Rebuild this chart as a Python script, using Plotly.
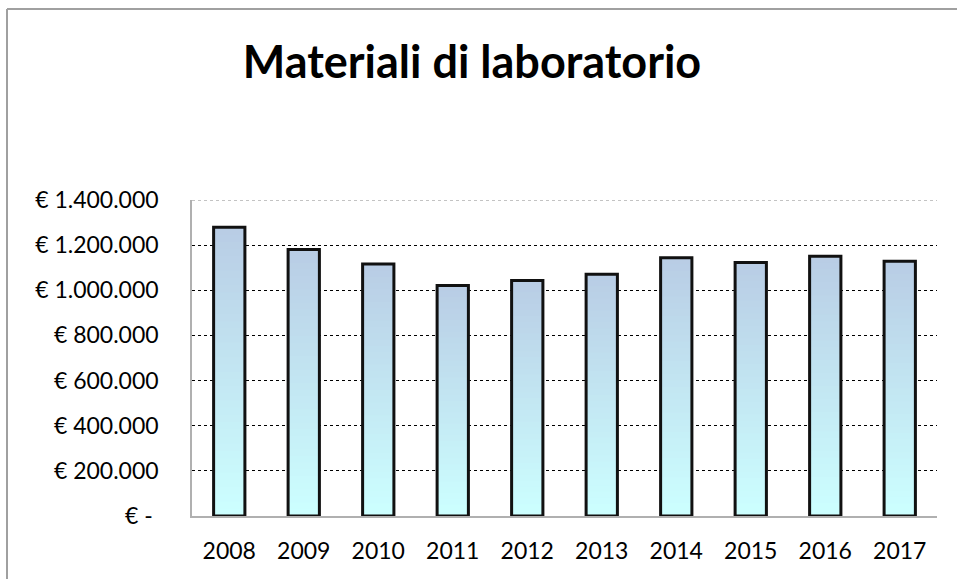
import plotly.graph_objects as go

# data
years = ['2008', '2009', '2010', '2011', '2012', '2013', '2014', '2015', '2016', '2017']
spesa = [1279000, 1181000, 1116000, 1021000, 1043000, 1071000, 1144000, 1123000, 1151000, 1129000]

tick_vals = [0, 200000, 400000, 600000, 800000, 1000000, 1200000, 1400000]
tick_text = ['€ -\u00a0', '€ 200.000', '€ 400.000', '€ 600.000', '€ 800.000',
             '€ 1.000.000', '€ 1.200.000', '€ 1.400.000']

top_rgb = (185, 205, 229)
bottom_rgb = (204, 255, 255)
n_steps = 40
bar_w = 0.42

fig = go.Figure()

# vertical gradient: overlaid bars, each shorter one drawn over the taller one
for k in range(n_steps):
    frac = (n_steps - k) / n_steps
    t = k / (n_steps - 1)
    col = 'rgb(%d,%d,%d)' % tuple(round(a + (b - a) * t) for a, b in zip(top_rgb, bottom_rgb))
    fig.add_trace(go.Bar(
        x=years, y=[v * frac for v in spesa], width=bar_w,
        marker=dict(color=col, line=dict(width=0)),
        hoverinfo='skip', showlegend=False))

# outline
fig.add_trace(go.Bar(
    x=years, y=spesa, width=bar_w,
    marker=dict(color='rgba(0,0,0,0)', line=dict(color='#111111', width=3)),
    showlegend=False))

W, H = 957, 579
L, T, B = 192, 200, 63
R = W - L - 745
plot_h = H - T - B
frame_x = (7 - L) / 745
frame_y = 1 + (T - 9) / plot_h

fig.update_layout(
    barmode='overlay',
    width=W, height=H,
    margin=dict(l=L, r=R, t=T, b=B),
    paper_bgcolor='white', plot_bgcolor='white',
    font=dict(family='Lato, Liberation Sans, sans-serif', size=23, color='black'),
    title=dict(text='<b>Materiali di laboratorio</b>', x=(472 - L) / 745, xref='paper',
               xanchor='center', y=1 - 62 / H, yanchor='middle',
               font=dict(family='Lato, Liberation Sans, sans-serif', size=45, color='black')),
    xaxis=dict(showline=True, linecolor='#b0b0b0', linewidth=1.5, ticks='',
               ticklabelstandoff=14,
               tickfont=dict(size=23), showgrid=False, fixedrange=True),
    yaxis=dict(range=[0, 1400000], tickvals=tick_vals, ticktext=tick_text,
               showline=True, linecolor='#b0b0b0', linewidth=1.5,
               showgrid=True, gridcolor='#000000', gridwidth=1, griddash='dot',
               zeroline=False, ticks='', ticklabelstandoff=27,
               tickfont=dict(size=23), fixedrange=True),
    shapes=[
        # chart-area frame: only the top and left edges are inside the window
        dict(type='line', xref='paper', yref='paper',
             x0=frame_x, x1=1.1, y0=frame_y, y1=frame_y,
             line=dict(color='#a0a0a0', width=2)),
        dict(type='line', xref='paper', yref='paper',
             x0=frame_x, x1=frame_x, y0=-0.4, y1=frame_y,
             line=dict(color='#a0a0a0', width=2)),
        dict(type='line', xref='paper', yref='y', x0=0, x1=1, y0=1400000, y1=1400000,
             line=dict(color='#888888', width=1, dash='dot')),
    ],
)

fig.write_html('out.html', config={'displayModeBar': False},
               post_script="document.body.style.margin='0';")
